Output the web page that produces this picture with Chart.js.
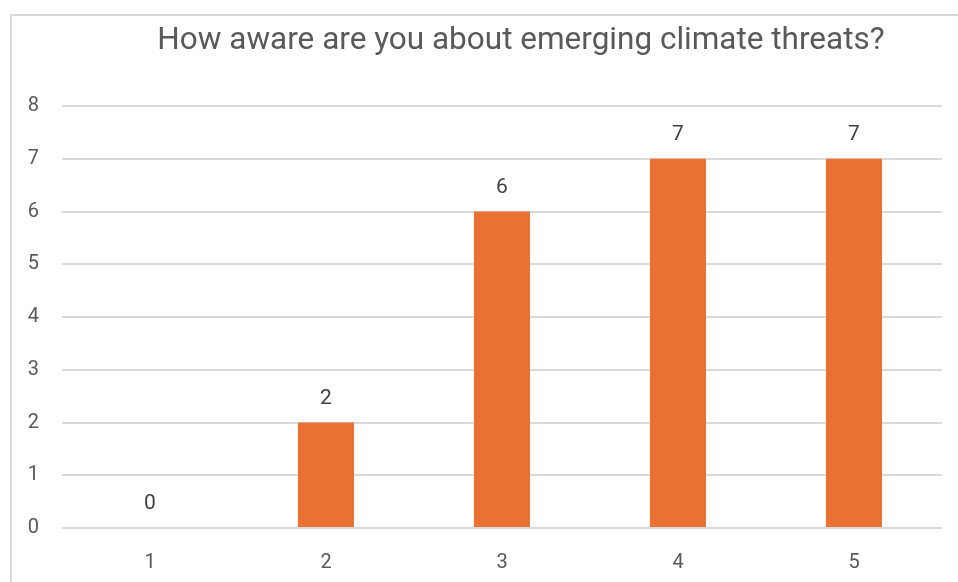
<!DOCTYPE html>
<html>
<head>
<meta charset="utf-8">
<script src="https://cdn.jsdelivr.net/npm/chart.js@4/dist/chart.umd.min.js"></script>
<style>
  html, body { margin: 0; padding: 0; background: #fff; overflow: hidden; }
  #frame { position: absolute; left: 10px; top: 14px; width: 1100px; height: 700px; border: 2px solid #d9d9d9; box-sizing: border-box; }
  #wrap { position: absolute; left: 0; top: 0; width: 958px; height: 582px; }
</style>
</head>
<body>
<div id="frame"></div>
<div id="wrap"><canvas id="c" width="958" height="582"></canvas></div>
<script>
const titleText = "How aware are you about emerging climate threats?";
const categories = ["1", "2", "3", "4", "5"];
const values = [0, 2, 6, 7, 7];
const yTicks = [0, 1, 2, 3, 4, 5, 6, 7, 8];

const FONT = "Roboto, 'Noto Sans', sans-serif";

const titlePlugin = {
  id: 'customTitle',
  afterDraw(chart) {
    const ctx = chart.ctx;
    ctx.save();
    ctx.font = "31.5px " + FONT;
    ctx.fillStyle = "#595959";
    ctx.textBaseline = "middle";
    ctx.textAlign = "center";
    ctx.fillText(titleText, 521, 41);
    ctx.restore();
  }
};

const labelPlugin = {
  id: 'valueLabels',
  afterDatasetsDraw(chart) {
    const ctx = chart.ctx;
    const meta = chart.getDatasetMeta(0);
    ctx.save();
    ctx.font = "21px " + FONT;
    ctx.fillStyle = "#404040";
    ctx.textAlign = "center";
    ctx.textBaseline = "middle";
    meta.data.forEach((bar, i) => {
      ctx.fillText(String(values[i]), bar.x, bar.y - 24);
    });
    ctx.restore();
  }
};

new Chart(document.getElementById('c'), {
  type: 'bar',
  data: {
    labels: categories,
    datasets: [{
      data: values,
      backgroundColor: '#EB7033',
      borderWidth: 0,
      barPercentage: 0.318,
      categoryPercentage: 1.0
    }]
  },
  options: {
    responsive: false,
    animation: false,
    devicePixelRatio: 1,
    layout: { padding: { top: 106, right: 16, left: 0, bottom: 0 } },
    plugins: {
      legend: { display: false },
      title: { display: false },
      tooltip: { enabled: false }
    },
    scales: {
      x: {
        grid: { display: false, drawTicks: false },
        border: { display: false },
        ticks: { color: '#595959', font: { family: FONT, size: 20 }, padding: 23 },
        afterFit(s) { s.height = 54; }
      },
      y: {
        min: 0, max: 8,
        afterBuildTicks(s) { s.ticks = yTicks.map(v => ({ value: v })); },
        grid: { color: '#d9d9d9', lineWidth: 2, drawTicks: false },
        border: { display: false },
        ticks: { color: '#595959', font: { family: FONT, size: 20 }, padding: 23 },
        afterFit(s) { s.width = 62; }
      }
    }
  },
  plugins: [titlePlugin, labelPlugin]
});
</script>
</body>
</html>
